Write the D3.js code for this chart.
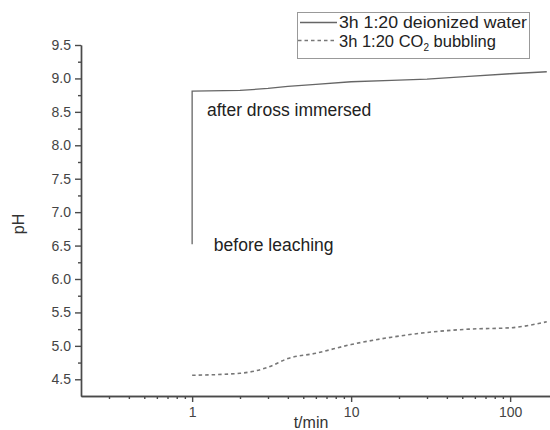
<!DOCTYPE html>
<html lang="en">
<head>
  <meta charset="UTF-8">
  <title>pH vs time</title>
  <script src="https://d3js.org/d3.v7.min.js"></script>
  <style>
    body { margin: 0; background: #fff; }
    svg { display: block; font-family: "Liberation Sans", Arial, sans-serif; }
    .axis path, .axis line { stroke: #4a4a4a; stroke-width: 1.4; }
    .axis text { fill: #444; font-size: 14px; }
  </style>
</head>
<body>
<svg width="550" height="430"></svg>
<script>
// time points (min)
const times = [1, 2, 3, 4, 6, 10, 18, 30, 55, 100, 170];
const phWater = [8.81, 8.82, 8.85, 8.88, 8.91, 8.95, 8.97, 8.99, 9.03, 9.07, 9.10];
const phCO2 = [4.56, 4.59, 4.68, 4.81, 4.89, 5.02, 5.13, 5.20, 5.25, 5.27, 5.36];
const phBefore = 6.52; // starting point before leaching, at t = 1

const yTicks = [4.5, 5.0, 5.5, 6.0, 6.5, 7.0, 7.5, 8.0, 8.5, 9.0, 9.5];
const yMinor = [4.75, 5.25, 5.75, 6.25, 6.75, 7.25, 7.75, 8.25, 8.75, 9.25];
const xTicks = [1, 10, 100];
const xMinor = [0.3, 0.4, 0.5, 0.6, 0.7, 0.8, 0.9, 2, 3, 4, 5, 6, 7, 8, 9, 20, 30, 40, 50, 60, 70, 80, 90, 200];

const seriesNames = ["3h 1:20 deionized water", "3h 1:20 CO"];

const svg = d3.select("svg");

const x = d3.scaleLog().domain([0.2, 200]).range([81, 558]);
const y = d3.scaleLinear().domain([4.25, 9.5]).range([396, 45]);

// axes
svg.append("g")
  .attr("class", "axis")
  .attr("transform", `translate(0,${y(4.25)})`)
  .call(d3.axisBottom(x).tickValues(xMinor).tickSize(3).tickFormat("").tickSizeOuter(0));

svg.append("g")
  .attr("class", "axis")
  .attr("transform", `translate(0,${y(4.25)})`)
  .call(d3.axisBottom(x).tickValues(xTicks).tickSize(6).tickPadding(5).tickFormat(d3.format("d")).tickSizeOuter(0));

svg.append("g")
  .attr("class", "axis")
  .attr("transform", `translate(${x(0.2)},0)`)
  .call(d3.axisLeft(y).tickValues(yMinor).tickSize(3).tickFormat("").tickSizeOuter(0));

svg.append("g")
  .attr("class", "axis")
  .attr("transform", `translate(${x(0.2)},0)`)
  .call(d3.axisLeft(y).tickValues(yTicks).tickSize(6).tickPadding(4).tickFormat(d3.format(".1f")).tickSizeOuter(0));

// axis titles
svg.append("text")
  .attr("x", 311)
  .attr("y", 428)
  .attr("text-anchor", "middle")
  .attr("fill", "#333")
  .attr("font-size", 16)
  .text("t/min");

svg.append("text")
  .attr("transform", "translate(24,224) rotate(-90)")
  .attr("text-anchor", "middle")
  .attr("fill", "#333")
  .attr("font-size", 16)
  .text("pH");

// lines
const waterData = [{t: 1, v: phBefore}].concat(times.map((t, i) => ({t: t, v: phWater[i]})));
const co2Data = times.map((t, i) => ({t: t, v: phCO2[i]}));

const line = d3.line().x(d => x(d.t)).y(d => y(d.v));

svg.append("path")
  .datum(waterData)
  .attr("fill", "none")
  .attr("stroke", "#666")
  .attr("stroke-width", 1.3)
  .attr("d", line);

svg.append("path")
  .datum(co2Data)
  .attr("fill", "none")
  .attr("stroke", "#777")
  .attr("stroke-width", 1.6)
  .attr("stroke-dasharray", "3.5,3")
  .attr("d", line.curve(d3.curveMonotoneX));

// annotations
svg.append("text")
  .attr("x", x(1.24))
  .attr("y", y(8.44))
  .attr("fill", "#222")
  .attr("font-size", 17.5)
  .text("after dross immersed");

svg.append("text")
  .attr("x", x(1.37))
  .attr("y", y(6.42))
  .attr("fill", "#222")
  .attr("font-size", 17.5)
  .text("before leaching");

// legend
const legend = svg.append("g");
legend.append("rect")
  .attr("x", 297.5).attr("y", 12.5)
  .attr("width", 232).attr("height", 46)
  .attr("fill", "#fff")
  .attr("stroke", "#999");

legend.append("line")
  .attr("x1", 300).attr("x2", 337).attr("y1", 22.5).attr("y2", 22.5)
  .attr("stroke", "#666").attr("stroke-width", 1.3);
legend.append("line")
  .attr("x1", 298).attr("x2", 337).attr("y1", 40.5).attr("y2", 40.5)
  .attr("stroke", "#777").attr("stroke-width", 1.6).attr("stroke-dasharray", "3.5,3");

legend.append("text")
  .attr("x", 339).attr("y", 28)
  .attr("fill", "#222").attr("font-size", 16.5)
  .attr("textLength", 188).attr("lengthAdjust", "spacingAndGlyphs")
  .text(seriesNames[0]);

const t2 = legend.append("text")
  .attr("x", 339).attr("y", 47)
  .attr("fill", "#222").attr("font-size", 16.5);
t2.append("tspan").text(seriesNames[1]);
t2.append("tspan").attr("font-size", 10).attr("dy", 4).text("2");
t2.append("tspan").attr("dy", -4).text(" bubbling");
</script>
</body>
</html>
